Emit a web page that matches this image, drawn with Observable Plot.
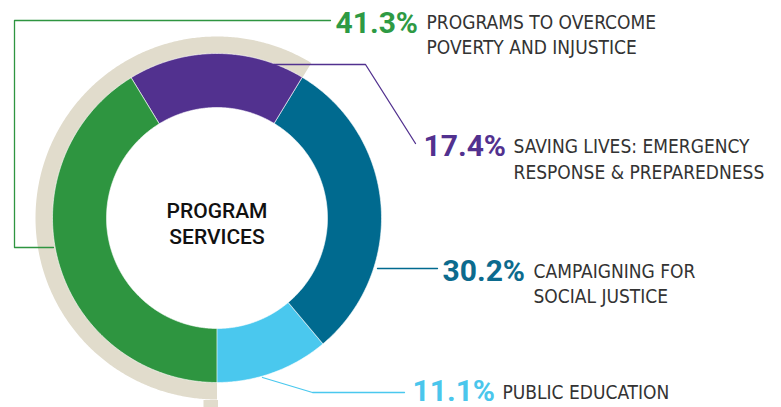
<!DOCTYPE html>
<html><head><meta charset="utf-8">
<script src="https://cdn.jsdelivr.net/npm/d3@7"></script>
<script src="https://cdn.jsdelivr.net/npm/@observablehq/plot@0.6"></script>
<style>
body{margin:0;background:#fff;}
g[aria-label="center-label"] text{letter-spacing:1.8px}
g[aria-label="percent"] text{letter-spacing:0.5px}
</style></head><body><div id="chart"></div>
<script>
// ---- data ----
const categories = ["Programs to overcome poverty and injustice", "Saving lives: emergency response & preparedness", "Campaigning for social justice", "Public education"];
const values = [41.3, 17.4, 30.2, 11.1];
const percentLabels = ["41.3%", "17.4%", "30.2%", "11.1%"];
const labelLines = [
  ["PROGRAMS TO OVERCOME", "POVERTY AND INJUSTICE"],
  ["SAVING LIVES: EMERGENCY", "RESPONSE & PREPAREDNESS"],
  ["CAMPAIGNING FOR", "SOCIAL JUSTICE"],
  ["PUBLIC EDUCATION"]
];
const centerTitle = ["PROGRAM", "SERVICES"];

// ---- styles / layout ----
const colors = ["#2E9540", "#52318F", "#006A8F", "#4AC8EE"];
const textColors = ["#2E9A44", "#52318F", "#0C6B8E", "#4AC6EC"];
const W = 781, H = 407;
const CX = 216.5, CY = 217.5, R_IN = 110.5, R_OUT = 164.5, R_SHADOW = 181.5;
const shadowColor = "#E1DCCC";
const pctPos = [[335, 32], [423, 155], [442, 280], [412, 400]];
const labelX = [426, 513, 533, 502];
const labelBase = [[28, 53], [152, 178], [277, 302], [398]];
const leaders = [
  [[330, 20], [14, 20], [14, 247], [53, 247]],
  [[273, 64], [365, 64], [415, 143]],
  [[377, 268], [437, 268]],
  [[262, 377], [312, 392], [404, 392]]
];

// ---- geometry from data ----
const total = d3.sum(values);
const start = Math.PI; // begins at 6 o'clock, runs clockwise
function arcPoly(a0, a1, r0, r1, key) {
  const n = Math.max(2, Math.ceil(Math.abs(a1 - a0) / (Math.PI / 360)));
  const pts = [];
  for (let i = 0; i <= n; i++) { const a = a0 + (a1 - a0) * i / n; pts.push({key, x: CX + r1 * Math.sin(a), y: CY - r1 * Math.cos(a)}); }
  for (let i = n; i >= 0; i--) { const a = a0 + (a1 - a0) * i / n; pts.push({key, x: CX + r0 * Math.sin(a), y: CY - r0 * Math.cos(a)}); }
  return pts;
}
let acc = 0;
const slices = values.map((v, i) => {
  const a0 = start + acc / total * 2 * Math.PI;
  acc += v;
  const a1 = start + acc / total * 2 * Math.PI;
  return {i, a0, a1, pts: arcPoly(a0, a1, R_IN, R_OUT, categories[i])};
});
// shadow ring behind the first two slices
const shadowPts = arcPoly(slices[0].a0, slices[1].a1, R_OUT - 1, R_SHADOW, "shadow");

const marks = [];
marks.push(Plot.line(shadowPts, {x: "x", y: "y", curve: "linear-closed", fill: shadowColor, stroke: "none"}));
marks.push(Plot.rect([{x1: CX - 13, x2: CX + 1.5, y1: CY + R_OUT + 18, y2: H}], {x1: "x1", x2: "x2", y1: "y1", y2: "y2", fill: shadowColor}));
slices.forEach(s => {
  marks.push(Plot.line(s.pts, {x: "x", y: "y", curve: "linear-closed", fill: colors[s.i], stroke: "white", strokeWidth: 0.6}));
});
leaders.forEach((pts, i) => {
  marks.push(Plot.line(pts.map(p => ({x: p[0], y: p[1]})), {x: "x", y: "y", stroke: colors[i], strokeWidth: 1.3}));
});
marks.push(Plot.text(percentLabels.map((t, i) => ({t, x: pctPos[i][0], y: pctPos[i][1], c: textColors[i]})), {
  x: "x", y: "y", text: "t", fill: d => d.c, textAnchor: "start", lineAnchor: "bottom",
  fontFamily: "Roboto", fontWeight: 700, fontSize: 30, ariaLabel: "percent"
}));
const labelRows = [];
labelLines.forEach((lines, i) => lines.forEach((t, j) => labelRows.push({t, x: labelX[i], y: labelBase[i][j]})));
marks.push(Plot.text(labelRows, {
  x: "x", y: "y", text: "t", fill: "#333", textAnchor: "start", lineAnchor: "bottom",
  fontFamily: "'DejaVu Sans Condensed', sans-serif", fontSize: 19, ariaLabel: "label"
}));
marks.push(Plot.text(centerTitle.map((t, j) => ({t, x: CX, y: CY - 0.5 + j * 26})), {
  x: "x", y: "y", text: "t", fill: "#111", textAnchor: "middle", lineAnchor: "bottom",
  fontFamily: "Roboto", fontWeight: 500, fontSize: 21, ariaLabel: "center-label"
}));

const chart = Plot.plot({
  width: W, height: H, margin: 0,
  x: {domain: [0, W], range: [0, W], axis: null},
  y: {domain: [0, H], range: [0, H], axis: null},
  color: {type: "identity"},
  marks
});
document.getElementById("chart").appendChild(chart);
</script></body></html>
